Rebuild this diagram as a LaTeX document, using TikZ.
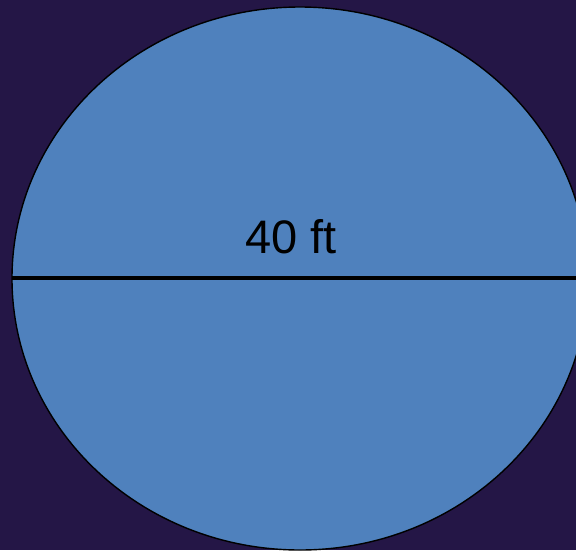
\documentclass[tikz,border=0pt]{standalone}
\usepackage{fontspec}
\setmainfont{Liberation Sans}
\usetikzlibrary{positioning}
\definecolor{bgpurple}{RGB}{36,22,70}
\definecolor{discblue}{RGB}{79,129,189}

\begin{document}
\begin{tikzpicture}[x=1pt, y=-1pt]

% Geometry parameters
\def\W{576}     % picture width
\def\H{550}     % picture height
\def\Cx{300}    % centre x
\def\Cy{278.5}  % centre y
\def\Rx{288}    % horizontal radius
\def\Ry{271.5}  % vertical radius

% Background
\fill[bgpurple] (0,0) rectangle (\W,\H);
\useasboundingbox (0,0) rectangle (\W,\H);
\clip (0,0) rectangle (\W,\H);

% Disc
\draw[fill=discblue, line width=1.4pt] (\Cx,\Cy) ellipse [x radius=\Rx, y radius=\Ry];

% Diameter
\coordinate (leftend) at (\Cx-\Rx,278);
\coordinate (rightend) at (\Cx+\Rx,278);
\draw[line width=3.5pt] (leftend) -- (rightend);

% Label
\node[anchor=base, inner sep=0pt, font=\fontsize{47}{47}\selectfont] (diam) at (291,253) {40 ft};

\end{tikzpicture}
\end{document}
